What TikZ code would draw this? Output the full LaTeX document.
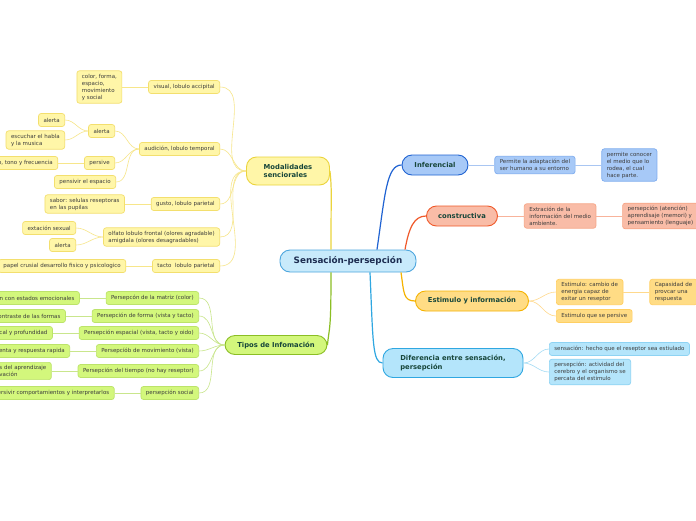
\documentclass[tikz,border=0pt]{standalone}
\usepackage{fontspec}
\setmainfont{DejaVu Sans}
\usetikzlibrary{positioning}
\definecolor{CenFill}{HTML}{C8EAFB}
\definecolor{CenEdge}{HTML}{4DA6DE}
\definecolor{CenText}{HTML}{1C2C50}
\definecolor{TopicText}{HTML}{17463A}
\definecolor{LeafText}{HTML}{3C3C3C}
\definecolor{YelFill}{HTML}{FFF6A8}
\definecolor{YelEdge}{HTML}{F3DF6E}
\definecolor{YelMain}{HTML}{EBD43C}
\definecolor{YelLink}{HTML}{F7E68A}
\definecolor{GrnFill}{HTML}{D3F77C}
\definecolor{GrnEdge}{HTML}{BCE36A}
\definecolor{GrnMain}{HTML}{8BBE24}
\definecolor{GrnLink}{HTML}{C9E68C}
\definecolor{BluFill}{HTML}{A7C9F7}
\definecolor{BluEdge}{HTML}{7EACEF}
\definecolor{BluMain}{HTML}{2063D2}
\definecolor{BluLink}{HTML}{A9C6F2}
\definecolor{RedFill}{HTML}{F9BCA7}
\definecolor{RedEdge}{HTML}{F6A586}
\definecolor{RedMain}{HTML}{F0592A}
\definecolor{RedLink}{HTML}{F8B39B}
\definecolor{AmbFill}{HTML}{FFDC85}
\definecolor{AmbEdge}{HTML}{FFCF62}
\definecolor{AmbMain}{HTML}{F5B301}
\definecolor{AmbLink}{HTML}{FFD98C}
\definecolor{CyaFill}{HTML}{B4E5FB}
\definecolor{CyaEdge}{HTML}{8ED3F3}
\definecolor{CyaMain}{HTML}{2FA7E1}
\definecolor{CyaLink}{HTML}{A5DCF5}
\newcommand{\offl}{\hspace*{14pt}}

\begin{document}
\begin{tikzpicture}[x=1pt,y=1pt,node distance=26pt,
    leaf/.style={rounded corners=2.5pt,line width=.7pt,inner xsep=5pt,inner ysep=3pt,minimum height=13pt,align=left,text=LeafText,font=\fontsize{5.5}{7}\selectfont},
    yleaf/.style={leaf,draw=YelEdge,fill=YelFill},
    gleaf/.style={leaf,draw=GrnEdge,fill=GrnFill},
    bleaf/.style={leaf,draw=BluEdge,fill=BluFill},
    oleaf/.style={leaf,draw=RedEdge,fill=RedFill},
    aleaf/.style={leaf,draw=AmbEdge,fill=AmbFill},
    cleaf/.style={leaf,draw=CyaEdge,fill=CyaFill},
    topic/.style={rounded corners=10pt,line width=.9pt,minimum height=20pt,align=left,text=TopicText,font=\bfseries\fontsize{6.8}{8.4}\selectfont},
    root/.style={rounded corners=10pt,line width=.9pt,draw=CenEdge,fill=CenFill,text=CenText,font=\bfseries\fontsize{8.8}{10}\selectfont},
    link/.style={line width=.6pt},
    branch/.style={line width=1.2pt}]
  \useasboundingbox (0,0) rectangle (696,-520);
  \fill[white] (0,0) rectangle (696,-520);

  \node[root,minimum width=136pt,minimum height=22pt] (cen) at (348,-261) {Sensación-persepción};

  \node[topic,draw=YelMain,fill=YelFill,minimum width=83pt,minimum height=28pt] (mod) at (288,-171) {Modalidades\\senciorales};
  \node[topic,draw=GrnMain,fill=GrnFill,minimum width=102pt,minimum height=19pt] (tip) at (276,-345) {Tipos de Infomación};
  \node[topic,draw=BluMain,fill=BluFill,minimum width=66pt] (inf) at (435,-165) {Inferencial};
  \node[topic,draw=RedMain,fill=RedFill,minimum width=71pt] (con) at (462,-216) {constructiva};
  \node[topic,draw=AmbMain,fill=AmbFill,minimum width=113pt] (est) at (472,-301) {Estimulo y información};
  \node[topic,draw=CyaMain,fill=CyaFill,minimum width=140pt,minimum height=29pt] (dif) at (453,-363) {Diferencia entre sensación,\\persepción};

  \node[yleaf,anchor=east] (vis) at (220,-87) {visual, lobulo accipital};
  \node[yleaf,left=of vis] (colr) {color, forma,\\espacio,\\movimiento\\y social};
  \node[yleaf,anchor=east] (aud) at (220,-149) {audición, lobulo temporal};
  \node[yleaf,anchor=east] (ale) at (115,-131) {alerta};
  \node[yleaf,anchor=east] (aleb) at (65,-120) {alerta};
  \node[yleaf,anchor=east] (habla) at (65,-140) {escuchar el habla\\y la musica};
  \node[yleaf,anchor=east] (pers) at (115,-163) {persive};
  \node[yleaf,left=of pers] (tono) {\offl do, tono y frecuencia};
  \node[yleaf,anchor=east] (espa) at (116,-182) {pensivir el espacio};
  \node[yleaf,anchor=east] (gus) at (220,-204) {gusto, lobulo parietal};
  \node[yleaf,left=of gus] (sabor) {sabor: selulas reseptoras\\en las pupilas};
  \node[yleaf,anchor=east] (olf) at (220,-237) {olfato lobulo frontal (olores agradable)\\amigdala (olores desagradables)};
  \node[yleaf,anchor=east] (sex) at (76,-228) {extación sexual};
  \node[yleaf,anchor=east] (alec) at (76,-245) {alerta};
  \node[yleaf,anchor=east] (tac) at (220,-266) {tacto\ \ lobulo parietal};
  \node[yleaf,left=of tac] (papel) {papel crusial desarrollo fisico y psicologico};

  \node[gleaf,anchor=east] (mat) at (199,-298) {Persepcón de la matriz (color)};
  \node[gleaf,left=of mat] (emo) {\offl ón con estados emocionales};
  \node[gleaf,anchor=east] (form) at (199,-316) {Persepción de forma (vista y tacto)};
  \node[gleaf,left=of form] (contr) {\offl contraste de las formas};
  \node[gleaf,anchor=east] (espc) at (199,-333) {Persepción espacial (vista, tacto y oido)};
  \node[gleaf,left=of espc] (prof) {\offl ical y profundidad};
  \node[gleaf,anchor=east] (mov) at (199,-351) {Persepcíób de movimiento (vista)};
  \node[gleaf,left=of mov] (lent) {\offl lenta y respuesta rapida};
  \node[gleaf,anchor=east] (tiem) at (199,-371) {Persepción del tiempo (no hay reseptor)};
  \node[gleaf,left=of tiem] (apr) {\offl s del aprendizaje\\\offl vación};
  \node[gleaf,anchor=east] (soc) at (199,-393) {persepción social};
  \node[gleaf,left=of soc] (inter) {\offl persivir comportamientos y interpretarlos};

  \node[bleaf,right=of inf] (adap) {Permite la adaptación del\\ser humano a su entorno};
  \node[bleaf,right=of adap] (cono) {permite conocer\\el medio que lo\\rodea, el cual\\hace parte.};
  \node[oleaf,right=of con] (extr) {Extración de la\\información del medio\\ambiente.};
  \node[oleaf,right=of extr] (aten) {persepción (atención)\\aprendisaje (memori) y\\pensamiento (lenguaje)};
  \node[aleaf,anchor=west] (camb) at (556,-292) {Estimulo: cambio de\\energia capaz de\\exitar un reseptor};
  \node[aleaf,right=of camb] (capa) {Capasidad de\\provcar una\\respuesta};
  \node[aleaf,anchor=west] (sepe) at (556,-316) {Estimulo que se persive};
  \node[cleaf,anchor=west] (sens) at (549,-349) {sensación: hecho que el reseptor sea estiulado};
  \node[cleaf,anchor=west] (perc) at (549,-372) {persepción: actividad del\\cerebro y el organismo se\\percata del estimulo};

  \draw[branch,YelMain] ([xshift=-17pt]cen.north) .. controls +(0,60) and +(2,-20) .. (mod.east);
  \draw[branch,GrnMain] ([xshift=-17pt]cen.south) .. controls +(0,-60) and +(2,20) .. (tip.east);
  \draw[branch,BluMain] ([xshift=29pt]cen.north) .. controls +(8,55) and +(-15,0) .. (inf.west);
  \draw[branch,RedMain] ([xshift=57pt]cen.north) .. controls +(4,22) and +(-12,0) .. (con.west);
  \draw[branch,AmbMain] ([xshift=53pt]cen.south) .. controls +(3,-20) and +(-12,0) .. (est.west);
  \draw[branch,CyaMain] ([xshift=22pt]cen.south) .. controls +(3,-70) and +(-10,0) .. (dif.west);

  \foreach \n in {vis,aud,gus,olf,tac}
    \draw[link,YelLink] (mod.west) to[out=180,in=0] (\n.east);
  \draw[link,YelLink] (vis.west) -- (colr.east);
  \draw[link,YelLink] (aud.west) to[out=180,in=0] (ale.east);
  \draw[link,YelLink] (aud.west) to[out=180,in=0] (pers.east);
  \draw[link,YelLink] (aud.west) to[out=180,in=0] (espa.east);
  \draw[link,YelLink] (ale.west) to[out=180,in=0] (aleb.east);
  \draw[link,YelLink] (ale.west) to[out=180,in=0] (habla.east);
  \draw[link,YelLink] (pers.west) -- (tono.east);
  \draw[link,YelLink] (gus.west) -- (sabor.east);
  \draw[link,YelLink] (olf.west) to[out=180,in=0] (sex.east);
  \draw[link,YelLink] (olf.west) to[out=180,in=0] (alec.east);
  \draw[link,YelLink] (tac.west) -- (papel.east);

  \foreach \n/\m in {mat/emo,form/contr,espc/prof,mov/lent,tiem/apr,soc/inter}{
    \draw[link,GrnLink] (tip.west) to[out=180,in=0] (\n.east);
    \draw[link,GrnLink] (\n.west) -- (\m.east);
  }

  \draw[link,BluLink] (inf.east) -- (adap.west);
  \draw[link,BluLink] (adap.east) -- (cono.west);
  \draw[link,RedLink] (con.east) -- (extr.west);
  \draw[link,RedLink] (extr.east) -- (aten.west);
  \draw[link,AmbLink] (est.east) to[out=0,in=180] (camb.west);
  \draw[link,AmbLink] (est.east) to[out=0,in=180] (sepe.west);
  \draw[link,AmbLink] (camb.east) -- (capa.west);
  \draw[link,CyaLink] (dif.east) to[out=0,in=180] (sens.west);
  \draw[link,CyaLink] (dif.east) to[out=0,in=180] (perc.west);
\end{tikzpicture}
\end{document}
